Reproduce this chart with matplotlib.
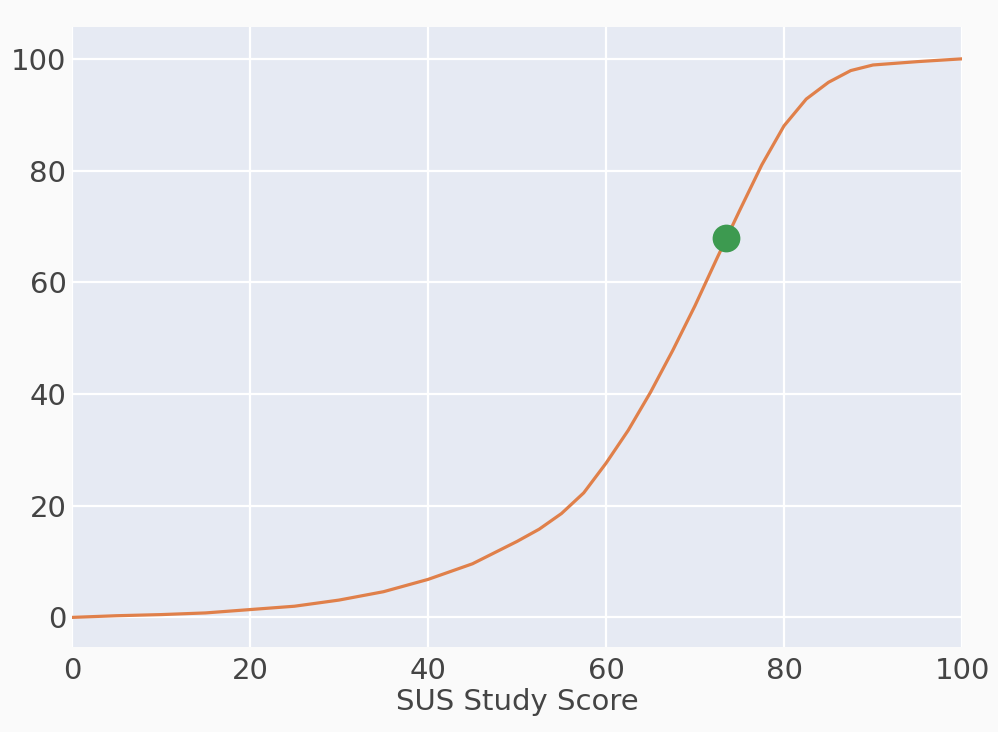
import matplotlib
matplotlib.use("Agg")
import matplotlib.pyplot as plt

# Data
sus_score = [0, 5, 10, 15, 20, 25, 30, 35, 40, 45, 47.5, 50, 52.5, 55, 57.5, 60, 62.5,
             65, 67.5, 70, 72.5, 75, 77.5, 80, 82.5, 85, 87.5, 90, 95, 100]
percentile = [0, 0.3, 0.5, 0.8, 1.4, 2.0, 3.1, 4.6, 6.8, 9.6, 11.6, 13.6, 15.8, 18.6,
              22.3, 27.6, 33.5, 40.3, 47.8, 55.8, 64.4, 72.8, 81.0, 88.0, 92.8, 95.8,
              97.9, 98.9, 99.5, 100]
point_x = [73.5]
point_y = [67.9]
x_ticks = [0, 20, 40, 60, 80, 100]
y_ticks = [0, 20, 40, 60, 80, 100]

plt.rcParams['font.family'] = ['DejaVu Sans']
text_color = '#444444'

fig = plt.figure(figsize=(9.98, 7.32), dpi=100, facecolor='#fafafa')
ax = fig.add_axes([72/998, 85/732, 890/998, 620/732])
ax.set_facecolor('#e6eaf3')

ax.plot(sus_score, percentile, color='#e0804a', linewidth=2.3, zorder=3,
        solid_capstyle='round', solid_joinstyle='round')
ax.plot(point_x, point_y, 'o', color='#3d9a50', markersize=20, zorder=4,
        markeredgewidth=0)

ax.set_xlim(0, 100)
ax.set_ylim(-5.3, 105.7)
ax.set_xticks(x_ticks)
ax.set_yticks(y_ticks)
ax.grid(True, color='white', linewidth=1.6)
ax.set_axisbelow(True)
ax.tick_params(length=0, labelsize=21, colors=text_color)
ax.tick_params(axis='x', pad=7)
ax.tick_params(axis='y', pad=4)
for s in ax.spines.values():
    s.set_visible(False)

ax.set_xlabel('SUS Study Score', fontsize=21, color=text_color, labelpad=2)

fig.savefig('out.png', dpi=100, facecolor=fig.get_facecolor())
